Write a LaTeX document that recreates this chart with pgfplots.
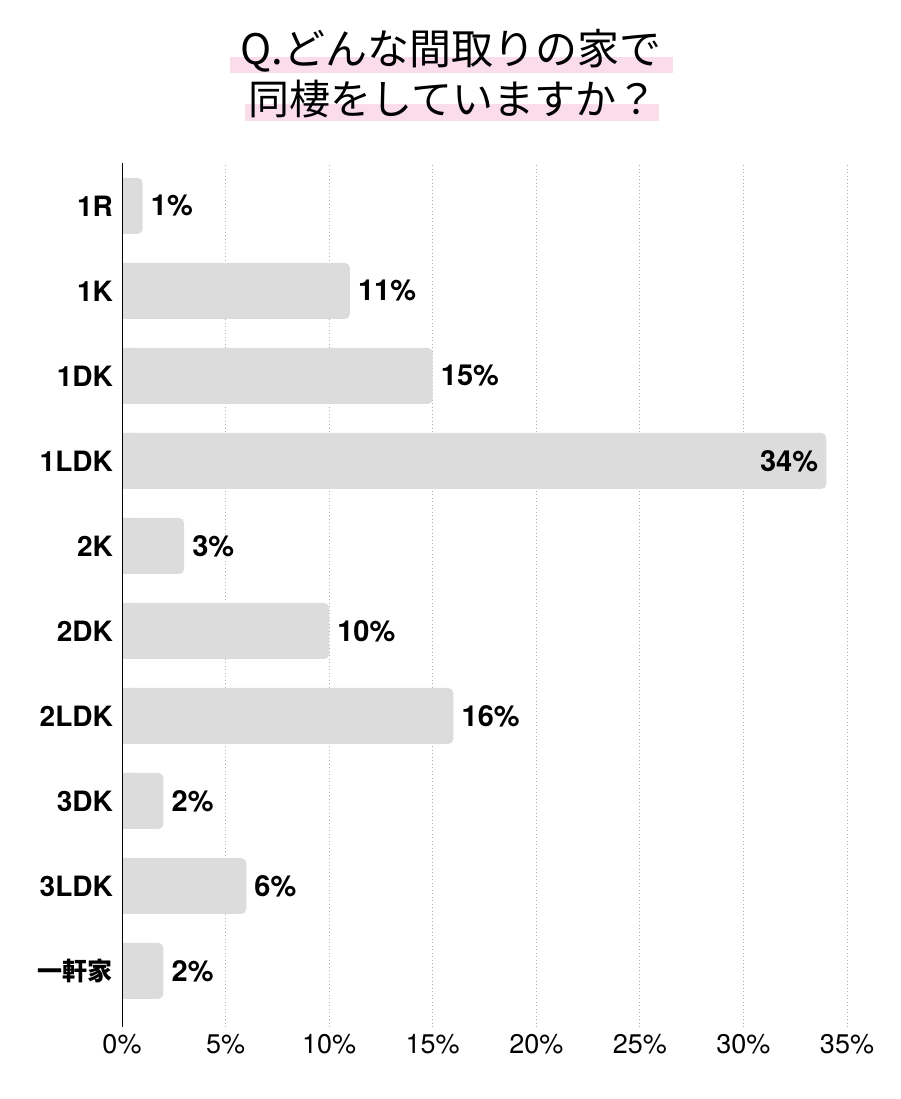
\documentclass[border=0pt]{standalone}
\usepackage{pgfplots}
\pgfplotsset{compat=1.18}
\usepackage{pgfplotstable}
\usepackage{fontspec}
\setmainfont{TeX Gyre Heros}
\newfontfamily\cjk{Noto Sans CJK JP}
\definecolor{barg}{HTML}{DCDCDC}
\definecolor{hl}{HTML}{FADCEB}

% idx 0 = 1R (top) ... 9 = 一軒家 (bottom)
\pgfplotstableread{
idx v
0 1
1 11
2 15
3 34
4 3
5 10
6 16
7 2
8 6
9 2
}\alldata
\pgfplotstableread{
idx v
0 1
1 11
2 15
4 3
5 10
6 16
7 2
8 6
9 2
}\outside
\pgfplotstableread{
idx v
3 34
}\inside

\begin{document}
\begin{tikzpicture}
\useasboundingbox (0pt,0pt) rectangle (900pt,1099pt);
% title with pink highlighter strips
\fill[hl] (230pt,1026pt) rectangle (673pt,1042pt);
\fill[hl] (245pt,978pt) rectangle (659pt,995pt);
\node[font=\cjk\fontsize{42}{42}\selectfont, inner sep=0pt] at (451pt,1048pt) {Q.どんな間取りの家で};
\node[font=\cjk\fontsize{41}{41}\selectfont, inner sep=0pt] at (453pt,1000pt) {同棲をしていますか？};

\begin{axis}[
    at={(122pt,72pt)}, anchor=south west,
    scale only axis, width=725pt, height=864pt,
    xmin=0, xmax=35, ymin=-9.659, ymax=0.506,
    xbar, bar width=56pt, bar shift=0pt,
    axis line style={draw=none},
    major tick length=0pt,
    xtick={0,5,...,35},
    xticklabel={\pgfmathprintnumber{\tick}\%},
    /pgf/number format/assume math mode=true,
    xticklabel style={font=\fontsize{27}{27}\selectfont, inner sep=0pt, yshift=-7pt},
    ytick={-9,...,0},
    yticklabels={{\cjk\fontsize{25}{25}\selectfont 一軒家},3LDK,3DK,2LDK,2DK,2K,1LDK,1DK,1K,1R},
    yticklabel style={font=\bfseries\fontsize{28}{28}\selectfont, inner sep=0pt, xshift=-9pt},
    xmajorgrids,
    major grid style={gray!65, line width=0.9pt, dash pattern=on 0.9pt off 2.6pt},
    point meta=x,
    nodes near coords={\pgfmathprintnumber{\pgfplotspointmeta}\%},
    nodes near coords style={font=\bfseries\fontsize{29}{29}\selectfont, inner sep=0pt},
]
% bars with rounded ends
\addplot[fill=barg, draw=none, rounded corners=5pt, nodes near coords=] table[x=v, y expr=-\thisrow{idx}] {\alldata};
% square off the corners at the axis
\addplot[fill=barg, draw=none, nodes near coords=] table[x expr={min(\thisrow{v},0.5)}, y expr=-\thisrow{idx}] {\alldata};
% value labels
\addplot[draw=none, fill=none, nodes near coords style={anchor=west, xshift=8pt}] table[x=v, y expr=-\thisrow{idx}] {\outside};
\addplot[draw=none, fill=none, nodes near coords style={anchor=east, xshift=-8pt}] table[x=v, y expr=-\thisrow{idx}] {\inside};
\draw[black, line width=1.4pt] (rel axis cs:0,0) -- (rel axis cs:0,1);
\end{axis}
\end{tikzpicture}
\end{document}
